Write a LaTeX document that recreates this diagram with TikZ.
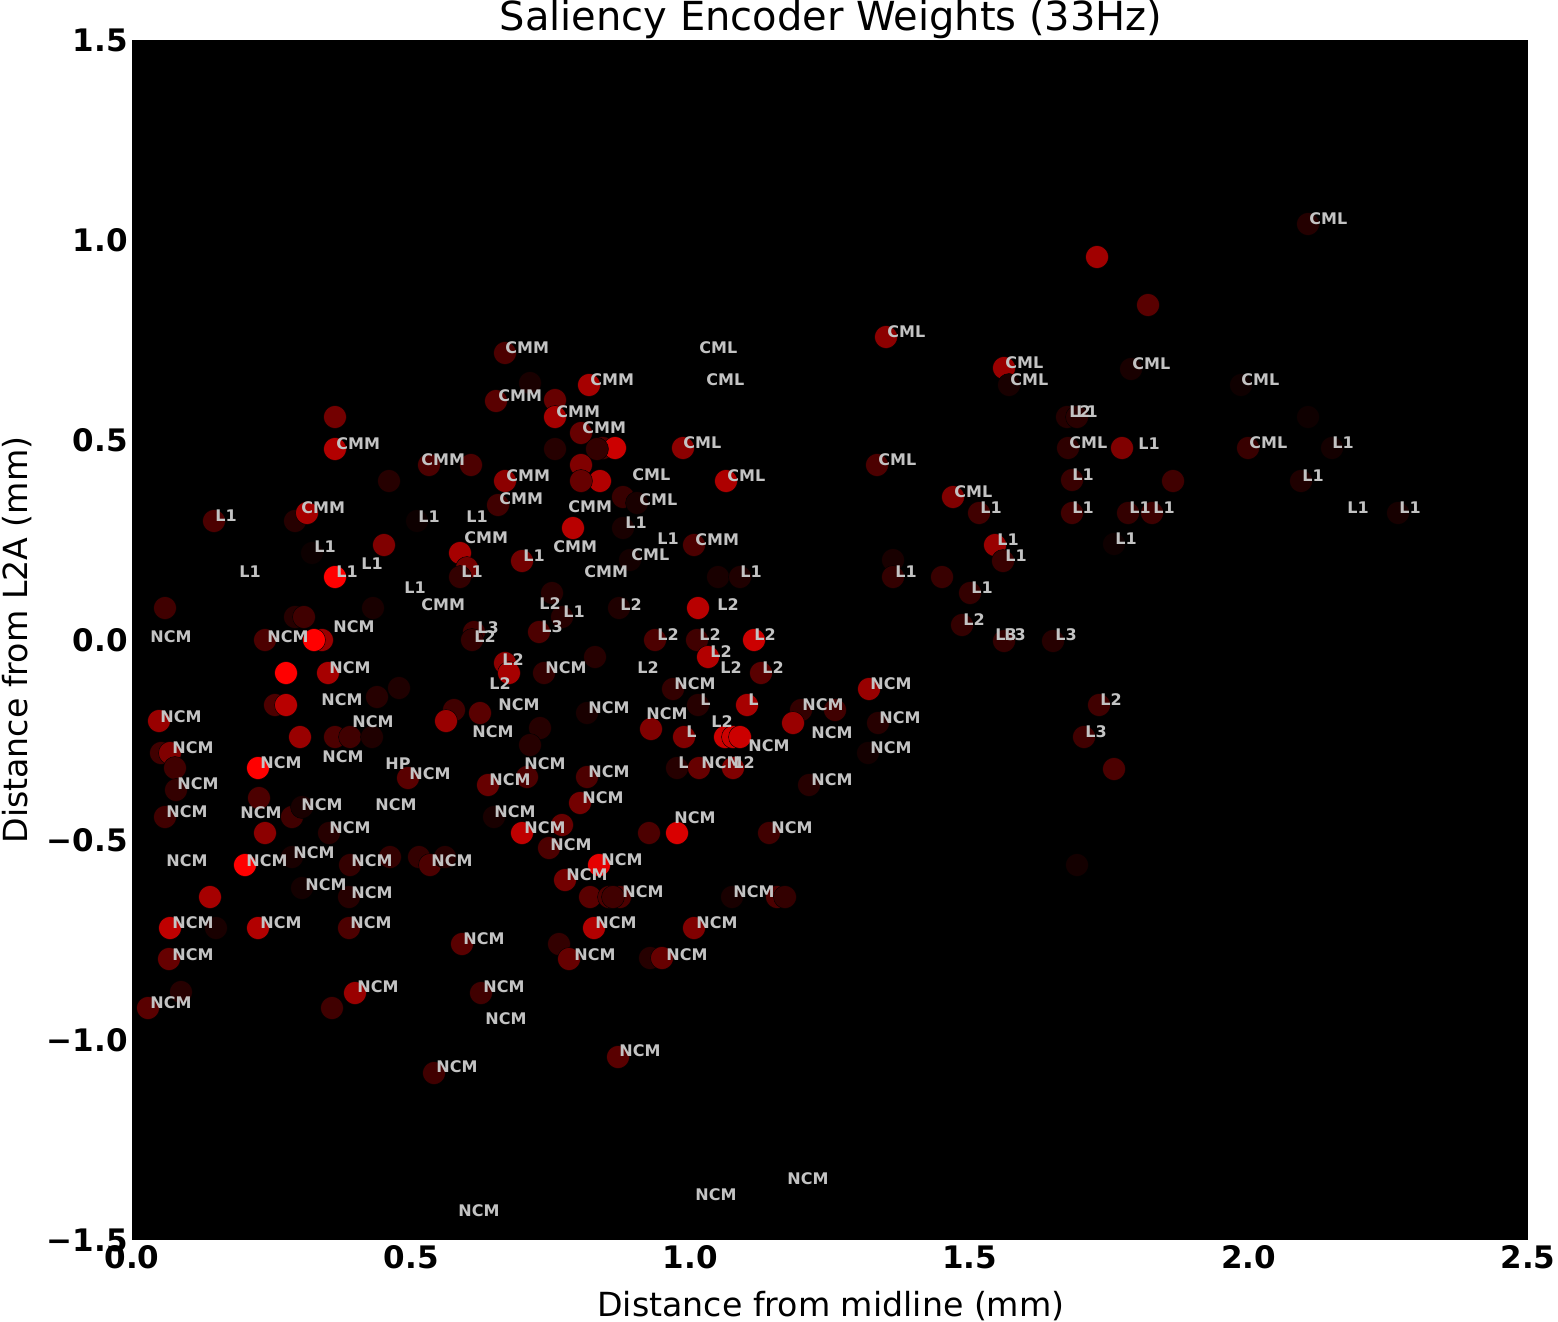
\documentclass[tikz,border=0pt]{standalone}
\usepackage{fontspec}
\setmainfont{DejaVu Sans}
\definecolor{lblgray}{RGB}{195,195,195}

\begin{document}
\begin{tikzpicture}
[x=0.5pt, y=-0.5pt,
 dot/.style={draw=black, line width=0.2pt},
 tag/.style={anchor=base west, inner sep=0pt, text=lblgray, font=\fontsize{8}{9}\selectfont\bfseries},
 xtick/.style={anchor=base, inner sep=0pt, font=\fontsize{15.5}{17}\selectfont\bfseries},
 ytick/.style={anchor=east, inner sep=0pt, font=\fontsize{15.5}{17}\selectfont\bfseries}]
\useasboundingbox (0,0) rectangle (1558,1322);
\fill[black] (132,40) rectangle (1528,1240);

% recorded cells, colour = weight
\foreach \px/\py/\w in {
  1308/224/14, 1097/257/63, 1148/305/35, 1131/369/10, 1241/385/6, 1067/417/14, 1077/417/16, 1308/417/6,
  1068/448/18, 1122/448/50, 1248/448/22, 1332/448/8, 1072/480/22, 1173/481/25, 1301/481/12, 1072/513/25,
  1128/513/20, 1152/513/24, 1398/513/9, 1114/544/6,
  886/337/55, 1004/368/60, 1009/385/10, 603/448/30, 615/448/80, 683/448/55, 600/481/70, 623/497/22,
  637/503/10, 726/481/68, 623/528/10, 694/545/30, 630/560/8, 718/577/10, 740/577/12, 619/608/12,
  698/608/72, 877/465/30, 953/497/50, 979/513/25, 995/545/60, 1003/561/22, 893/560/10, 893/577/20,
  942/577/22, 970/593/20, 962/625/20, 1004/641/20, 1053/641/15,
  505/353/30, 530/383/10, 589/385/65, 335/417/45, 496/401/35, 555/400/40, 555/417/65, 581/433/40,
  335/449/70, 555/449/15, 597/449/20, 429/465/30, 471/465/30, 389/481/15, 505/481/55, 581/465/50,
  581/481/40, 498/505/25, 214/521/30, 295/521/15, 307/513/65, 417/521/5, 573/528/72, 384/545/50,
  312/553/5, 460/553/65, 467/568/45, 460/577/20, 522/561/45, 335/577/100, 552/593/15, 562/617/15,
  165/608/25, 373/608/10, 295/617/15, 304/617/25, 474/632/25, 472/640/20, 539/632/30, 265/640/30,
  322/640/60, 314/640/100,
  286/673/100, 328/673/65, 505/663/55, 509/673/65, 544/673/20, 595/657/15, 275/705/30, 286/705/72,
  377/697/15, 399/688/12, 159/721/60, 300/737/60, 335/737/30, 350/737/25, 372/737/12, 454/710/25,
  446/721/60, 480/713/35, 540/728/15, 530/745/15, 587/713/10, 161/753/25, 170/753/50, 175/768/25,
  258/768/100, 408/778/35, 176/790/20, 488/785/40, 527/777/30, 587/777/30, 165/817/25, 259/798/30,
  292/817/25, 302/807/10, 329/833/15, 265/833/55, 494/817/10, 522/833/75, 562/825/40, 549/848/30,
  580/803/45, 245/865/100, 292/857/10, 350/865/20, 390/857/20, 419/857/20, 430/865/30, 445/857/15,
  599/865/90, 565/880/45, 210/897/65, 302/888/8, 349/897/15, 590/897/35, 609/897/30, 620/897/30,
  170/928/75, 216/928/10, 258/928/70, 349/928/30, 462/944/35, 559/944/20, 594/928/70, 169/959/40,
  569/959/40,
  655/640/30, 697/640/25, 754/640/80, 708/657/70, 761/673/35, 673/689/20, 698/705/15, 747/705/65,
  869/689/60, 801/710/20, 835/710/25, 793/723/60, 878/723/15, 868/753/8, 651/729/50, 684/737/50,
  725/737/80, 733/737/80, 740/737/80, 677/768/15, 699/768/40, 733/768/50, 809/785/15, 649/833/30,
  677/833/85, 769/833/25, 613/897/25, 732/897/10, 777/897/30, 785/897/20, 694/928/50, 650/958/15,
  662/958/40, 1077/865/8,
  1099/705/25, 1084/737/25, 1114/769/30,
  148/1008/35, 181/992/15, 355/993/60, 332/1008/25, 481/993/25, 618/1057/35, 434/1073/25}
  \filldraw[dot, fill=red!\w!black] (\px,\py) circle[radius=5.75pt];

% area names
\foreach \px/\py/\t in {
  1309/224/CML, 1132/369/CML, 1241/385/CML, 1069/448/CML, 1249/448/CML, 887/337/CML, 699/353/CML,
  706/385/CML, 1005/368/CML, 1010/385/CML, 683/448/CML, 632/480/CML, 727/481/CML, 639/505/CML,
  631/560/CML, 878/465/CML, 954/497/CML,
  1069/417/L2, 1076/417/L1,
  1138/449/L1, 1332/448/L1, 1072/480/L1, 1302/481/L1, 1072/513/L1, 1129/513/L1, 1153/513/L1,
  1347/513/L1, 1399/513/L1, 1115/544/L1,
  625/528/L1, 657/544/L1, 740/577/L1, 980/513/L1, 997/545/L1, 1005/561/L1, 895/577/L1, 971/593/L1,
  963/625/L2, 620/610/L2, 717/610/L2, 657/640/L2, 699/640/L2, 754/640/L2,
  995/640/L3, 1004/640/L3, 1055/640/L3,
  695/545/CMM, 584/577/CMM, 505/353/CMM, 590/385/CMM, 498/401/CMM, 556/417/CMM, 582/433/CMM,
  336/449/CMM, 421/465/CMM, 506/481/CMM, 499/504/CMM, 568/512/CMM, 301/513/CMM, 553/552/CMM,
  464/543/CMM, 421/610/CMM,
  215/521/L1, 418/522/L1, 466/522/L1, 314/552/L1, 461/577/L1, 523/561/L1, 239/577/L1, 336/577/L1,
  361/569/L1, 404/593/L1, 563/617/L1,
  539/609/L2, 474/642/L2, 502/665/L2, 489/689/L2, 710/657/L2, 637/673/L2, 720/673/L2, 762/673/L2,
  711/727/L2, 733/768/L2, 1100/705/L2,
  477/633/L3, 541/632/L3, 1085/737/L3,
  700/705/L, 748/705/L, 686/737/L, 678/768/L,
  385/769/HP,
  150/642/NCM, 267/642/NCM, 333/632/NCM, 329/673/NCM, 545/673/NCM, 321/705/NCM, 160/722/NCM,
  352/727/NCM, 498/710/NCM, 472/737/NCM, 588/713/NCM, 172/753/NCM, 260/768/NCM, 322/762/NCM,
  409/779/NCM, 177/789/NCM, 489/785/NCM, 524/769/NCM, 588/777/NCM, 166/817/NCM, 240/818/NCM,
  301/810/NCM, 375/810/NCM, 329/833/NCM, 494/817/NCM, 524/833/NCM, 550/850/NCM, 582/803/NCM,
  166/866/NCM, 246/866/NCM, 293/858/NCM, 351/866/NCM, 431/866/NCM, 601/865/NCM, 566/880/NCM,
  305/890/NCM, 351/898/NCM, 622/897/NCM, 172/928/NCM, 260/928/NCM, 350/928/NCM, 463/944/NCM,
  595/928/NCM, 172/960/NCM, 574/960/NCM, 674/689/NCM, 870/689/NCM, 802/710/NCM, 646/719/NCM,
  879/723/NCM, 811/738/NCM, 748/751/NCM, 870/753/NCM, 701/768/NCM, 811/785/NCM, 674/823/NCM,
  771/833/NCM, 733/897/NCM, 696/928/NCM, 666/960/NCM, 150/1008/NCM, 357/992/NCM, 483/992/NCM,
  485/1024/NCM, 619/1056/NCM, 436/1072/NCM, 787/1184/NCM, 695/1200/NCM, 458/1216/NCM}
  \node[tag] at (\px,\py) {\t};

% axes
\foreach \val [count=\i from 0] in {0.0,0.5,1.0,1.5,2.0,2.5}
  \node[xtick] at ({132+\i*279.2},1268) {\val};
\foreach \val [count=\i from 0] in {1.5,1.0,0.5,0.0,−0.5,−1.0,−1.5}
  \node[ytick] at (128,{40+\i*200}) {\val};

\node[anchor=base, inner sep=0pt, font=\fontsize{16.6}{20}\selectfont] (xlabel) at (831,1316) {Distance from midline (mm)};
\node[anchor=base, inner sep=0pt, rotate=90, font=\fontsize{16.6}{20}\selectfont] (ylabel) at (27,640) {Distance from L2A (mm)};
\node[anchor=base, inner sep=0pt, font=\fontsize{20}{24}\selectfont] (title) at (831,31) {Saliency Encoder Weights (33Hz)};
\end{tikzpicture}
\end{document}
